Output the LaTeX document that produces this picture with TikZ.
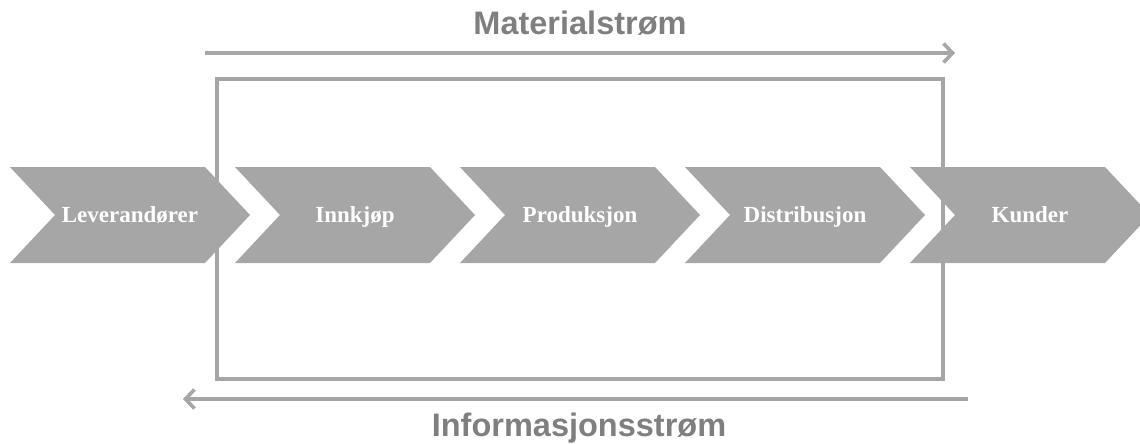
\documentclass[tikz,border=0pt]{standalone}
\usepackage{fontspec}
\setmainfont{Liberation Serif}
\newfontfamily\titlefont{Liberation Sans}
\usetikzlibrary{arrows.meta}
\definecolor{linegray}{HTML}{A6A6A6}
\definecolor{chevgray}{HTML}{A6A6A6}
\definecolor{titlegray}{HTML}{7F7F7F}
\tikzset{
  flowline/.style={draw=linegray, line width=3.6pt},
  flowarrow/.style={flowline, -{Straight Barb[length=9pt,width=19pt,line width=3.6pt]}},
  chevlabel/.style={text=white, font=\fontsize{23}{26}\selectfont\bfseries, anchor=base, inner sep=0pt},
  titlelabel/.style={text=titlegray, font=\titlefont\fontsize{32.5}{36}\selectfont\bfseries, anchor=base, inner sep=0pt},
}
\begin{document}
\begin{tikzpicture}[x=1pt,y=-1pt]
\useasboundingbox (0,0) rectangle (1140,444);
\clip (0,0) rectangle (1140,444);
% frame
\coordinate (ftl) at (217,79);
\coordinate (fbr) at (943,379);
\draw[flowline] (ftl) rectangle (fbr);
% chevrons
\foreach \i/\name/\txt in {0/lev/Leverandører,1/inn/Innkjøp,2/pro/Produksjon,3/dis/Distribusjon,4/kun/Kunder}{
  \pgfmathsetmacro{\xl}{10+225*\i}
  \fill[chevgray] (\xl,167) -- ++(195,0) -- ++(45,48) -- ++(-45,48) -- ++(-195,0) -- ++(45,-48) -- cycle;
  \node[chevlabel] (\name) at (\xl+120,222) {\txt};
}
% arrows
\coordinate (mstart) at (205,53);
\coordinate (mend) at (955,53);
\draw[flowarrow] (mstart) -- (mend);
\coordinate (istart) at (968,399);
\coordinate (iend) at (183,399);
\draw[flowarrow] (istart) -- (iend);
% titles
\node[titlelabel] (mat) at (580,35) {Materialstrøm};
\node[titlelabel] (info) at (579,436) {Informasjonsstrøm};
\end{tikzpicture}
\end{document}
